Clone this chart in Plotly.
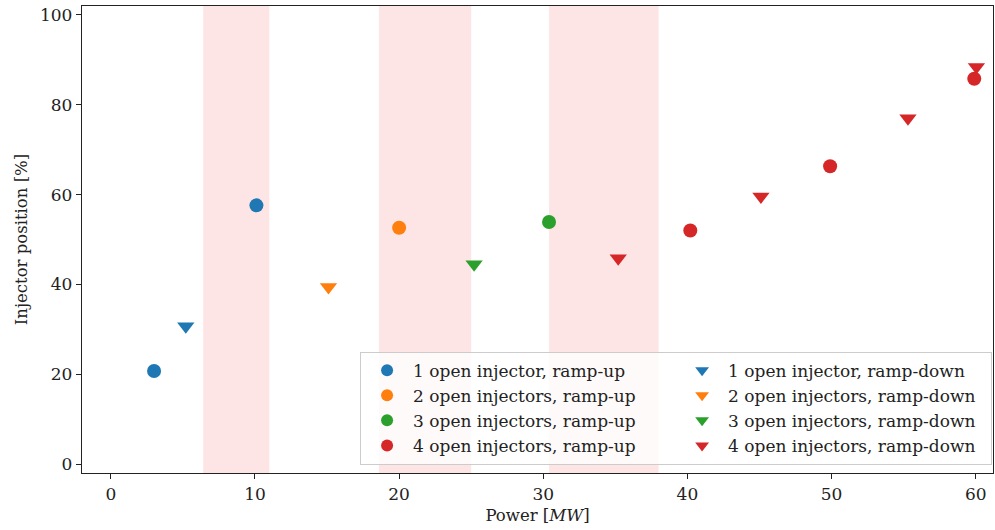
import plotly.graph_objects as go

colors = ["#1f77b4", "#ff7f0e", "#2ca02c", "#d62728"]
up_names = ["1 open injector, ramp-up", "2 open injectors, ramp-up",
            "3 open injectors, ramp-up", "4 open injectors, ramp-up"]
down_names = ["1 open injector, ramp-down", "2 open injectors, ramp-down",
              "3 open injectors, ramp-down", "4 open injectors, ramp-down"]

up_x = [[3.0, 10.1], [20.0], [30.4], [40.2, 49.9, 59.9]]
up_y = [[20.7, 57.6], [52.6], [53.9], [52.0, 66.3, 85.8]]
down_x = [[5.2], [15.1], [25.2], [35.2, 45.1, 55.3, 60.05]]
down_y = [[30.7], [39.4], [44.5], [45.8, 59.6, 77.0, 88.4]]

spans = [(6.4, 11.0), (18.6, 25.0), (30.4, 38.0)]

font_family = "DejaVu Serif"
fs = 17
fs_title = 16.5

fig = go.Figure()
for i in range(4):
    fig.add_trace(go.Scatter(x=up_x[i], y=up_y[i], mode="markers", name=up_names[i],
                             marker=dict(symbol="circle", size=14, color=colors[i])))
    fig.add_trace(go.Scatter(x=down_x[i], y=down_y[i], mode="markers", name=down_names[i],
                             marker=dict(symbol="triangle-down", size=15, color=colors[i])))

for a, b in spans:
    fig.add_vrect(x0=a, x1=b, fillcolor="rgba(245,0,0,0.1)", line_width=0, layer="below")

axis_common = dict(showline=True, linecolor="#222", linewidth=1.3, mirror=True,
                   ticks="outside", ticklen=5, tickwidth=1.2, tickcolor="#222",
                   showgrid=False, zeroline=False,
                   tickfont=dict(family=font_family, size=fs, color="#222"))

fig.update_xaxes(range=[-2, 61.2], tickvals=[0, 10, 20, 30, 40, 50, 60],
                 title=dict(text="Power [<i>MW</i>]", font=dict(family=font_family, size=fs_title, color="#222"),
                            standoff=6),
                 **axis_common)
fig.update_yaxes(range=[-2, 102], tickvals=[0, 20, 40, 60, 80, 100],
                 title=dict(text="Injector position [%]", font=dict(family=font_family, size=fs_title, color="#222"),
                            standoff=8),
                 **axis_common)

fig.update_layout(
    width=995, height=530,
    margin=dict(l=82, r=2, t=6, b=57),
    plot_bgcolor="white", paper_bgcolor="white",
    font=dict(family=font_family, size=fs, color="#222"),
    legend=dict(orientation="h", x=0.999, xanchor="right", y=0.018, yanchor="bottom",
                entrywidth=258, entrywidthmode="pixels", itemwidth=42,
                bgcolor="rgba(255,255,255,0.8)", bordercolor="#cccccc", borderwidth=1,
                font=dict(family=font_family, size=fs, color="#222"),
                itemsizing="constant"),
    showlegend=True,
)

fig.write_html("out.html")
